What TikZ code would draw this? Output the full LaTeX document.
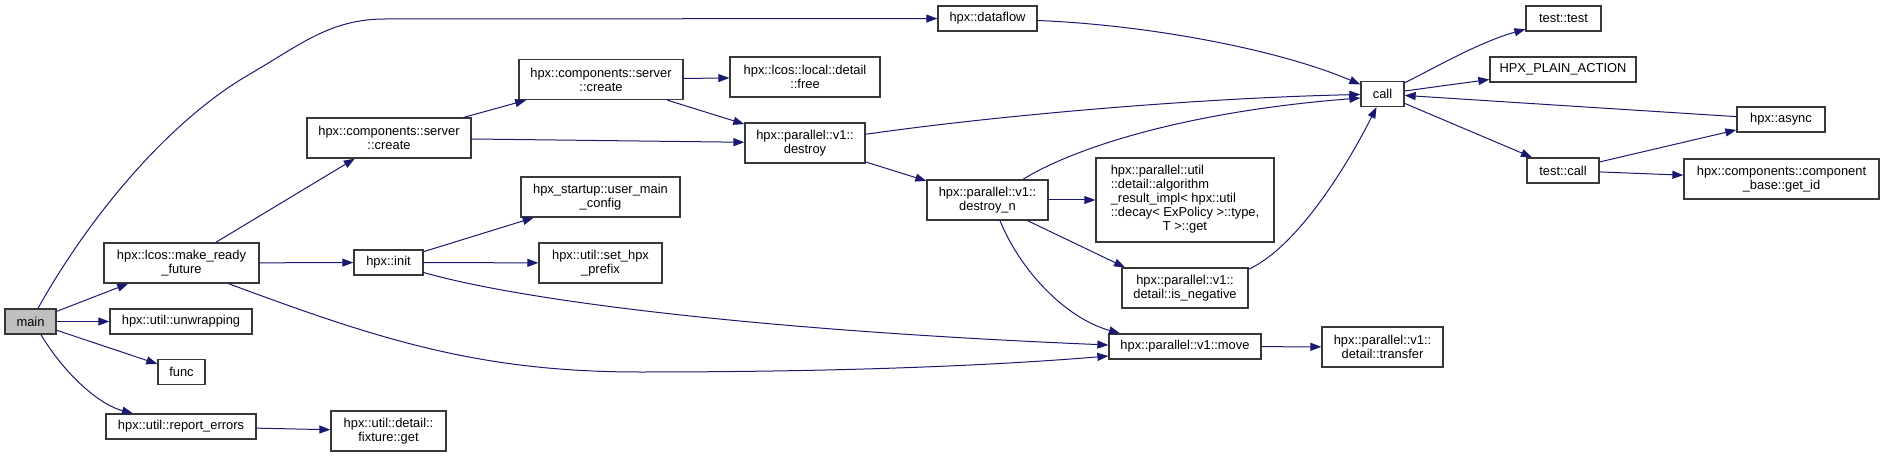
\documentclass[tikz,border=0pt]{standalone}
\usepackage{fontspec}
\setmainfont{Liberation Sans}
\usetikzlibrary{arrows.meta}
\definecolor{edgeblue}{HTML}{191970}
\definecolor{boxline}{HTML}{383838}
\definecolor{mainfill}{HTML}{BFBFBF}
\tikzset{
  box/.style={draw=boxline, line width=1.3pt, fill=white, rectangle, inner sep=0pt,
              align=center, font=\fontsize{12.9}{14}\selectfont},
  edge/.style={draw=edgeblue, line width=1pt, -{Triangle[length=11pt,width=8pt]}},
}
\begin{document}
\begin{tikzpicture}[x=1pt,y=-1pt]
\useasboundingbox (0,0) rectangle (1884,457);
% nodes
\node[box, fill=mainfill, minimum width=51pt, minimum height=25pt] (main) at (30.5,321.5) {main};
\node[box, minimum width=155pt, minimum height=40pt] (mrf) at (181.5,263) {hpx::lcos::make\_ready\\\_future};
\node[box, minimum width=142pt, minimum height=25pt] (unwrap) at (181,321.5) {hpx::util::unwrapping};
\node[box, minimum width=47pt, minimum height=25pt] (func) at (181.5,372) {func};
\node[box, minimum width=150pt, minimum height=25pt] (report) at (181,426.5) {hpx::util::report\_errors};
\node[box, minimum width=115pt, minimum height=40pt] (fixture) at (388.5,431) {hpx::util::detail::\\fixture::get};
\node[box, minimum width=164pt, minimum height=40pt] (cscA) at (389,138) {hpx::components::server\\::create};
\node[box, minimum width=69pt, minimum height=25pt] (init) at (388.5,262.5) {hpx::init};
\node[box, minimum width=164pt, minimum height=40pt] (cscB) at (601,79.5) {hpx::components::server\\::create};
\node[box, minimum width=150pt, minimum height=40pt] (free) at (805,77) {hpx::lcos::local::detail\\::free};
\node[box, minimum width=120pt, minimum height=40pt] (destroy) at (805,143) {hpx::parallel::v1::\\destroy};
\node[box, minimum width=159pt, minimum height=40pt] (umc) at (600.5,197) {hpx\_startup::user\_main\\\_config};
\node[box, minimum width=123pt, minimum height=40pt] (prefix) at (600.5,263) {hpx::util::set\_hpx\\\_prefix};
\node[box, minimum width=99pt, minimum height=25pt] (dataflow) at (987.5,18.5) {hpx::dataflow};
\node[box, minimum width=121pt, minimum height=40pt] (destroyn) at (987.5,200) {hpx::parallel::v1::\\destroy\_n};
\node[box, minimum width=178pt, minimum height=84pt] (algo) at (1185,200) {\begin{tabular}{@{}l@{}}hpx::parallel::util\\::detail::algorithm\\\_result\_impl< hpx::util\\::decay< ExPolicy >::type,\\\multicolumn{1}{@{}c@{}}{T >::get}\end{tabular}};
\node[box, minimum width=126pt, minimum height=40pt] (isneg) at (1185,288) {hpx::parallel::v1::\\detail::is\_negative};
\node[box, minimum width=152pt, minimum height=25pt] (move) at (1185,346.5) {hpx::parallel::v1::move};
\node[box, minimum width=43pt, minimum height=25pt] (call) at (1382.5,94) {call};
\node[box, minimum width=121pt, minimum height=40pt] (transfer) at (1382.5,347) {hpx::parallel::v1::\\detail::transfer};
\node[box, minimum width=75pt, minimum height=25pt] (testtest) at (1563.5,18.5) {test::test};
\node[box, minimum width=146pt, minimum height=25pt] (hpa) at (1563,69.5) {HPX\_PLAIN\_ACTION};
\node[box, minimum width=72pt, minimum height=25pt] (testcall) at (1563,170.5) {test::call};
\node[box, minimum width=88pt, minimum height=25pt] (async) at (1781,119.5) {hpx::async};
\node[box, minimum width=195pt, minimum height=40pt] (getid) at (1781.5,179) {hpx::components::component\\\_base::get\_id};
% edges
\draw[edge] ([xshift=7.5pt]main.north) .. controls (90,215) and (170,120) .. (250,74)
            .. controls (300,45) and (330,19) .. (385,19) -- (dataflow);
\draw[edge] (main) -- (mrf);
\draw[edge] (main) -- (unwrap);
\draw[edge] (main) -- (func);
\draw[edge] ([xshift=10.5pt]main.south) .. controls (65,375) and (100,405) .. ([xshift=-48pt]report.north);
\draw[edge] (report) -- (fixture);
\draw[edge] (mrf) -- (cscA);
\draw[edge] (mrf) -- (init);
\draw[edge] ([xshift=47pt]mrf.south) .. controls (380,340) and (480,372) .. (640,372)
            .. controls (850,372) and (1000,365) .. ([yshift=-9.5pt]move.west);
\draw[edge] (init) -- (umc);
\draw[edge] (init) -- (prefix);
\draw[edge] (init) .. controls (520,300) and (750,330) .. ([yshift=1.5pt]move.west);
\draw[edge] (cscA) -- (cscB);
\draw[edge] (cscA) -- (destroy);
\draw[edge] (cscB) -- (free);
\draw[edge] (cscB) -- (destroy);
\draw[edge] (destroy) .. controls (1000,115) and (1200,98) .. (call);
\draw[edge] (destroy) -- (destroyn);
\draw[edge] (dataflow) .. controls (1150,25) and (1280,50) .. (call);
\draw[edge] ([xshift=35.5pt]destroyn.north) .. controls (1070,150) and (1180,112) .. ([yshift=-4pt]call.west);
\draw[edge] (destroyn) -- (algo);
\draw[edge] ([xshift=40pt]destroyn.south) -- ([xshift=-60pt]isneg.north);
\draw[edge] ([xshift=12.5pt]destroyn.south) .. controls (1020,270) and (1065,318) .. ([xshift=-65pt]move.north);
\draw[edge] ([yshift=-2pt]isneg.north east) .. controls (1300,245) and (1350,160) .. ([xshift=-6pt]call.south);
\draw[edge] (move) -- (transfer);
\draw[edge] (call) .. controls (1440,65) and (1480,42) .. (testtest);
\draw[edge] (call) -- (hpa);
\draw[edge] (async) -- (call);
\draw[edge] (call) -- (testcall);
\draw[edge] (testcall) -- (async);
\draw[edge] (testcall) -- (getid);
\end{tikzpicture}
\end{document}
